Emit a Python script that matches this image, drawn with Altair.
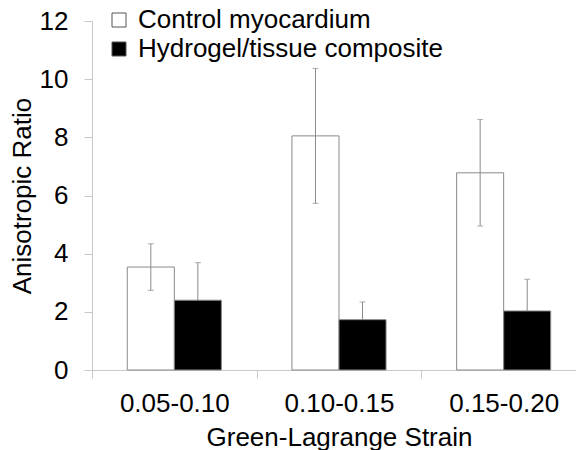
import altair as alt
import pandas as pd

categories = ["0.05-0.10", "0.10-0.15", "0.15-0.20"]
groups = ["Control myocardium", "Hydrogel/tissue composite"]
control = [3.54, 8.05, 6.78]
control_err = [0.80, 2.32, 1.83]
hydrogel = [2.40, 1.73, 2.03]
hydrogel_err = [1.29, 0.61, 1.09]

rows = []
for i, c in enumerate(categories):
    rows.append({"strain": c, "group": groups[0], "value": control[i],
                 "lo": control[i] - control_err[i], "hi": control[i] + control_err[i]})
    rows.append({"strain": c, "group": groups[1], "value": hydrogel[i],
                 "lo": hydrogel[i] - hydrogel_err[i], "hi": hydrogel[i] + hydrogel_err[i]})
df = pd.DataFrame(rows)

FONT = "Liberation Sans"
AXC = "#c8c8c8"
FS = 26

x_enc = alt.X("strain:N", sort=categories, title="Green-Lagrange Strain",
              scale=alt.Scale(domain=categories, range=[0, 494], paddingInner=0, paddingOuter=0),
              axis=alt.Axis(labelAngle=0, tickBand="extent", tickSize=8, labelPadding=12,
                            titlePadding=8, domainColor=AXC, tickColor=AXC,
                            titleX=247))
xo_enc = alt.XOffset("group:N", sort=groups,
                     scale=alt.Scale(domain=groups, paddingInner=0, paddingOuter=0.75))
y_enc = alt.Y("value:Q", title="Anisotropic Ratio",
              scale=alt.Scale(domain=[0, 12], nice=False),
              axis=alt.Axis(values=[0, 2, 4, 6, 8, 10, 12], grid=False, tickSize=8,
                            labelPadding=16, titlePadding=4, domainColor=AXC, tickColor=AXC))
color_enc = alt.Color("group:N", sort=groups,
                      scale=alt.Scale(domain=groups, range=["white", "black"]),
                      legend=alt.Legend(title=None, orient="none", legendX=14, legendY=-14,
                                        symbolType="square", symbolSize=196,
                                        symbolStrokeColor="#555555", symbolStrokeWidth=1,
                                        labelFontSize=FS, labelFont=FONT, labelColor="black",
                                        labelOffset=6, rowPadding=3, labelLimit=400))

base = alt.Chart(df)

bars_c = base.transform_filter(alt.datum.group == groups[0]).mark_bar(
    stroke="#8a8a8a", strokeWidth=1).encode(x=x_enc, xOffset=xo_enc, y=y_enc, color=color_enc)
bars_h = base.transform_filter(alt.datum.group == groups[1]).mark_bar(
    stroke="#8a8a8a", strokeWidth=1).encode(x=x_enc, xOffset=xo_enc, y=y_enc, color=color_enc)
rules = base.mark_rule(color="#8a8a8a", strokeWidth=1).encode(
    x=x_enc, xOffset=xo_enc, y="lo:Q", y2="hi:Q")
caps_hi = base.mark_tick(color="#8a8a8a", thickness=1, size=6, orient="horizontal").encode(
    x=x_enc, xOffset=xo_enc, y="hi:Q")
caps_lo = base.mark_tick(color="#8a8a8a", thickness=1, size=6, orient="horizontal").encode(
    x=x_enc, xOffset=xo_enc, y="lo:Q")

chart = alt.layer(bars_c, rules, caps_hi, caps_lo, bars_h).properties(
    width=484, height=349,
    autosize=alt.AutoSizeParams(type="none"),
    padding={"left": 92, "top": 21, "right": 0, "bottom": 80},
).configure_view(stroke=None).configure_axis(
    labelFont=FONT, titleFont=FONT, labelFontSize=FS, titleFontSize=FS,
    titleFontWeight="normal", labelColor="black", titleColor="black",
)

chart.save("out.html", embed_options={"renderer": "svg", "actions": False})
